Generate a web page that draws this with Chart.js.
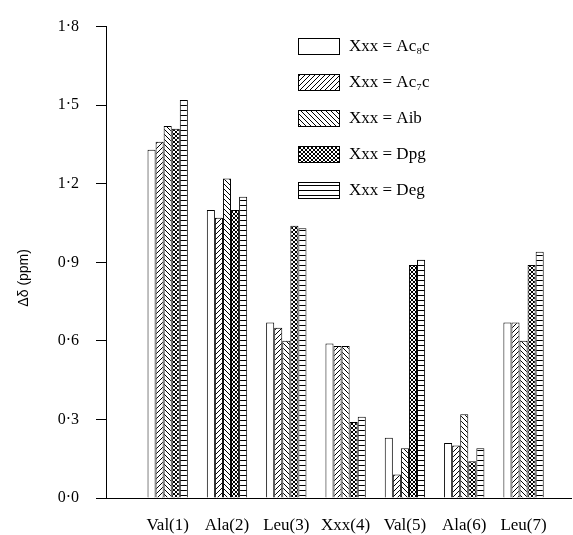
<!DOCTYPE html>
<html>
<head>
<meta charset="utf-8">
<script src="https://cdn.jsdelivr.net/npm/chart.js@4/dist/chart.umd.min.js"></script>
<style>
  html, body { margin: 0; padding: 0; background: #fff; }
  #wrap { width: 573px; height: 535px; }
</style>
</head>
<body>
<div id="wrap"><canvas id="shiftChart" width="573" height="535"></canvas></div>
<script>
// residues along the peptide
const residues = ['Val(1)', 'Ala(2)', 'Leu(3)', 'Xxx(4)', 'Val(5)', 'Ala(6)', 'Leu(7)'];

// series names (legend)
const seriesNames = ['Xxx = Ac\u2088c', 'Xxx = Ac\u2087c', 'Xxx = Aib', 'Xxx = Dpg', 'Xxx = Deg'];

// delta delta values (ppm)
const ac8c = [1.33, 1.10, 0.67, 0.59, 0.23, 0.21, 0.67];
const ac7c = [1.36, 1.07, 0.65, 0.58, 0.09, 0.20, 0.67];
const aib  = [1.42, 1.22, 0.60, 0.58, 0.19, 0.32, 0.60];
const dpg  = [1.41, 1.10, 1.04, 0.29, 0.89, 0.14, 0.89];
const deg  = [1.52, 1.15, 1.03, 0.31, 0.91, 0.19, 0.94];

const yTicks = [0, 0.3, 0.6, 0.9, 1.2, 1.5, 1.8];

// hatch fills
function makePattern(kind) {
  const s = kind === 'cross' ? 4 : 5;
  const c = document.createElement('canvas');
  c.width = s; c.height = s;
  const g = c.getContext('2d');
  g.fillStyle = '#fff';
  g.fillRect(0, 0, s, s);
  g.strokeStyle = '#000';
  g.lineWidth = 1;
  g.beginPath();
  if (kind === 'fwd' || kind === 'cross') {
    g.moveTo(-1, s + 1); g.lineTo(s + 1, -1);
    g.moveTo(-1, 1); g.lineTo(1, -1);
    g.moveTo(s - 1, s + 1); g.lineTo(s + 1, s - 1);
  }
  if (kind === 'back' || kind === 'cross') {
    g.moveTo(-1, -1); g.lineTo(s + 1, s + 1);
    g.moveTo(s - 1, -1); g.lineTo(s + 1, 1);
    g.moveTo(-1, s - 1); g.lineTo(1, s + 1);
  }
  if (kind === 'horiz') {
    g.moveTo(0, 0.5); g.lineTo(s, 0.5);
  }
  g.stroke();
  return g.createPattern(c, 'repeat');
}

const fills = ['#ffffff', makePattern('fwd'), makePattern('back'), makePattern('cross'), makePattern('horiz')];
const seriesValues = [ac8c, ac7c, aib, dpg, deg];

// simple boxed legend in the upper right, like the printed figure
const boxLegend = {
  id: 'boxLegend',
  afterDraw(chart, args, opts) {
    const ctx = chart.ctx;
    ctx.save();
    chart.data.datasets.forEach((ds, i) => {
      const cy = opts.y + i * opts.gap;
      ctx.fillStyle = ds.backgroundColor;
      ctx.fillRect(opts.x, cy - opts.h / 2, opts.w, opts.h);
      ctx.strokeStyle = '#000';
      ctx.lineWidth = 1;
      ctx.strokeRect(opts.x + 0.5, cy - opts.h / 2 + 0.5, opts.w, opts.h);
      ctx.fillStyle = '#000';
      ctx.font = opts.font;
      ctx.textBaseline = 'middle';
      ctx.textAlign = 'left';
      ctx.fillText(ds.label, opts.x + opts.w + 10, cy + 1);
    });
    ctx.restore();
  }
};

const ctx = document.getElementById('shiftChart').getContext('2d');
new Chart(ctx, {
  type: 'bar',
  data: {
    datasets: seriesNames.map((name, i) => ({
      label: name,
      data: seriesValues[i].map((v, j) => ({ x: j, y: v })),
      backgroundColor: fills[i],
      borderColor: '#000',
      borderWidth: 1,
      categoryPercentage: 0.68,
      barPercentage: 1,
    })),
  },
  options: {
    responsive: false,
    animation: false,
    layout: { padding: { left: 13, right: 2, top: 24, bottom: 0 } },
    plugins: {
      legend: { display: false },
      tooltip: { enabled: false },
      boxLegend: { x: 298, y: 46, gap: 36, w: 41, h: 16, font: '17px "Liberation Serif"' },
    },
    scales: {
      x: {
        type: 'linear',
        offset: false,
        min: -1.04,
        max: 6.8,
        afterBuildTicks: (scale) => {
          scale.ticks = residues.map((r, i) => ({ value: i }));
        },
        afterFit: (scale) => { scale.height = 37; },
        ticks: {
          callback: (v) => residues[v] ?? '',
          color: '#000',
          font: { family: 'Liberation Serif', size: 17 },
          padding: 17,
          maxRotation: 0,
          autoSkip: false,
        },
        grid: { display: false, drawTicks: false },
        border: { display: true, color: '#000', width: 1 },
      },
      y: {
        min: 0,
        max: 1.8,
        afterBuildTicks: (scale) => {
          scale.ticks = yTicks.map((v) => ({ value: v }));
        },
        afterFit: (scale) => { scale.width = 93; },
        ticks: {
          callback: (v) => v.toFixed(1).replace('.', '\u00b7'),
          color: '#000',
          font: { family: 'Liberation Serif', size: 16 },
          padding: 17,
        },
        grid: { drawOnChartArea: false, drawTicks: true, tickLength: 10, color: '#000' },
        border: { display: true, color: '#000', width: 1 },
        title: {
          display: true,
          text: 'Δδ (ppm)\u00a0\u00a0\u00a0\u00a0\u00a0\u00a0\u00a0\u00a0',
          color: '#000',
          font: { family: 'Liberation Sans', size: 14 },
          padding: { top: 3, bottom: 0 },
        },
      },
    },
  },
  plugins: [boxLegend],
});
</script>
</body>
</html>
